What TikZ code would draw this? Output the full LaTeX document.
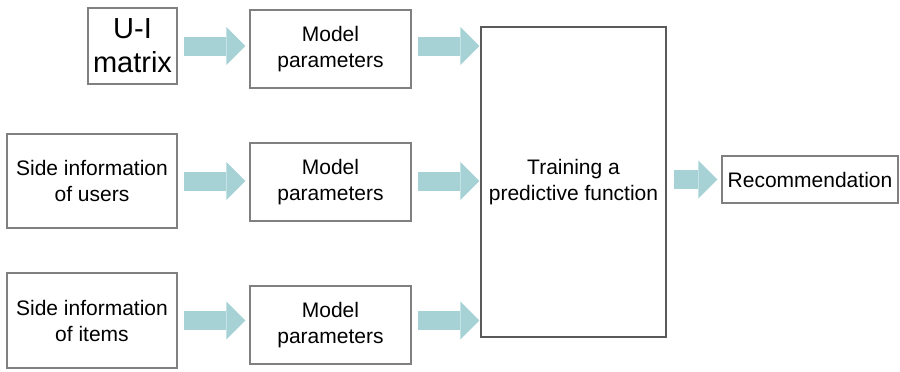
\documentclass[tikz,border=0pt]{standalone}
\usepackage{fontspec}
\setmainfont{Liberation Sans}
\usetikzlibrary{arrows.meta}
\definecolor{flowfill}{RGB}{166,210,214}
\definecolor{boxline}{RGB}{128,128,128}
\definecolor{bigline}{RGB}{90,90,90}
\tikzset{
  box/.style={draw=boxline, line width=1.1pt, fill=white, inner sep=0pt,
    align=center, font=\fontsize{21}{26}\selectfont},
  flow/.style={draw=flowfill, line width=19pt,
    -{Triangle[length=19pt,width=38pt,line width=0pt]}},
}
\begin{document}
\begin{tikzpicture}[x=1pt,y=-1pt]
\useasboundingbox (0,0) rectangle (900,372);

% input boxes
\node[box, minimum width=89pt, minimum height=76pt,
      font=\fontsize{29}{34}\selectfont] (ui) at (132.5,46) {U-I\\matrix};
\node[box, minimum width=170pt, minimum height=94pt] (users) at (92,181) {Side information\\of users};
\node[box, minimum width=170pt, minimum height=95pt] (items) at (92,320.5) {Side information\\of items};

% model parameter boxes
\node[box, minimum width=161pt, minimum height=78pt] (mp1) at (330.5,49) {Model\\parameters};
\node[box, minimum width=161pt, minimum height=78pt] (mp2) at (330.5,182) {Model\\parameters};
\node[box, minimum width=161pt, minimum height=78pt] (mp3) at (330.5,325) {Model\\parameters};

% training and output
\node[box, draw=bigline, minimum width=185pt, minimum height=310pt] (train) at (573.5,182) {Training a\\predictive function};
\node[box, minimum width=176pt, minimum height=47pt] (rec) at (810,179.5) {Recommendation};

% block arrows
\draw[flow, shorten <=6pt, shorten >=4pt] (ui.east) -- (ui.east -| mp1.west);
\draw[flow, shorten <=6pt, shorten >=1pt] (ui.east -| mp1.east) -- (ui.east -| train.west);
\draw[flow, shorten <=6pt, shorten >=4pt] (users.east) -- (users.east -| mp2.west);
\draw[flow, shorten <=6pt, shorten >=1pt] (users.east -| mp2.east) -- (users.east -| train.west);
\draw[flow, shorten <=6pt, shorten >=4pt] (items.east) -- (items.east -| mp3.west);
\draw[flow, shorten <=6pt, shorten >=1pt] (items.east -| mp3.east) -- (items.east -| train.west);
\draw[flow, shorten <=7pt, shorten >=4pt] (train.east |- rec.west) -- (rec.west);
\end{tikzpicture}
\end{document}
